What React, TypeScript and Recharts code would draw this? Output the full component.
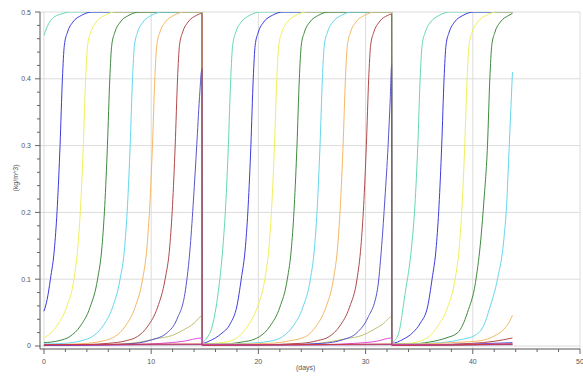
import React from "react";
import { LineChart, Line, XAxis, YAxis, CartesianGrid } from "recharts";

// day, concentration pairs (three batches, reset at ~14.74 and ~32.43)
const teal: [number, number][] = [
  [0, 0.465], [0.3, 0.478], [0.6, 0.487], [1, 0.493], [1.6, 0.497], [2.5, 0.5], [14.74, 0.5], [14.76, 0.006],
  [15.2, 0.012], [15.7, 0.03], [16.25, 0.08], [16.7, 0.15], [16.95, 0.21], [17.2, 0.3], [17.42, 0.4], [17.6, 0.45],
  [17.9, 0.47], [18.4, 0.485], [19.2, 0.495], [20.2, 0.5], [32.43, 0.5], [32.45, 0.006],
  [33, 0.015], [33.7, 0.08], [34.3, 0.15], [34.6, 0.21], [34.87, 0.3], [35.09, 0.4], [35.27, 0.45], [35.57, 0.47],
  [36.07, 0.485], [36.87, 0.495], [37.9, 0.5], [43.7, 0.5],
];
const blue: [number, number][] = [
  [0, 0.052], [0.3, 0.07], [0.6, 0.1], [1.0, 0.15], [1.25, 0.21], [1.5, 0.3], [1.72, 0.4], [1.9, 0.45], [2.2, 0.47],
  [2.7, 0.485], [3.5, 0.495], [4.5, 0.5], [14.74, 0.5], [14.76, 0.004],
  [15.5, 0.008], [16.5, 0.018], [17.4, 0.034], [18.0, 0.06], [18.4, 0.1], [18.8, 0.15], [19.05, 0.21], [19.3, 0.3],
  [19.52, 0.4], [19.7, 0.45], [20.0, 0.47], [20.5, 0.485], [21.3, 0.495], [22.3, 0.5], [32.43, 0.5], [32.45, 0.004],
  [33.5, 0.01], [34.4, 0.02], [35.1, 0.034], [35.8, 0.06], [36.2, 0.1], [36.6, 0.15], [36.85, 0.21], [37.1, 0.3],
  [37.32, 0.4], [37.5, 0.45], [37.8, 0.47], [38.3, 0.485], [39.1, 0.495], [40.1, 0.5], [43.7, 0.5],
];
const yellow: [number, number][] = [
  [0, 0.012], [1.2, 0.03], [2.1, 0.058], [2.8, 0.1], [3.17, 0.15], [3.42, 0.21], [3.67, 0.3], [3.89, 0.4],
  [4.07, 0.45], [4.37, 0.47], [4.87, 0.485], [5.67, 0.495], [6.67, 0.5], [14.74, 0.5], [14.76, 0.003],
  [16, 0.004], [17.5, 0.008], [18, 0.012], [19, 0.03], [19.9, 0.058], [20.6, 0.1], [21.0, 0.15], [21.25, 0.21],
  [21.5, 0.3], [21.72, 0.4], [21.9, 0.45], [22.2, 0.47], [22.7, 0.485], [23.5, 0.495], [24.5, 0.5], [32.43, 0.5], [32.45, 0.003],
  [34, 0.004], [35.5, 0.01], [36.75, 0.03], [37.65, 0.058], [38.35, 0.1], [38.75, 0.15], [39.0, 0.21], [39.25, 0.3],
  [39.47, 0.4], [39.65, 0.45], [39.95, 0.47], [40.45, 0.485], [41.25, 0.495], [42.25, 0.5], [43.7, 0.5],
];
const green: [number, number][] = [
  [0, 0.005], [1.4, 0.008], [2.4, 0.014], [3.4, 0.03], [4.3, 0.058], [5.0, 0.1], [5.42, 0.15], [5.67, 0.21],
  [5.92, 0.3], [6.14, 0.4], [6.32, 0.45], [6.62, 0.47], [7.12, 0.485], [7.92, 0.495], [8.92, 0.5], [14.74, 0.5], [14.76, 0.003],
  [16.5, 0.003], [18.5, 0.006], [19.6, 0.01], [20.1, 0.014], [21.1, 0.03], [22.0, 0.058], [22.7, 0.1], [23.1, 0.15],
  [23.35, 0.21], [23.6, 0.3], [23.82, 0.4], [24.0, 0.45], [24.3, 0.47], [24.8, 0.485], [25.6, 0.495], [26.6, 0.5],
  [32.43, 0.5], [32.45, 0.003],
  [34, 0.003], [36, 0.006], [37.5, 0.012], [38.6, 0.02], [39.5, 0.05], [40.3, 0.1], [40.75, 0.16], [41.05, 0.22],
  [41.37, 0.3], [41.59, 0.4], [41.77, 0.45], [42.07, 0.47], [42.57, 0.485], [43.37, 0.495], [43.7, 0.498],
];
const cyan: [number, number][] = [
  [0, 0.003], [2, 0.004], [3.5, 0.008], [4.5, 0.014], [5.5, 0.03], [6.4, 0.058], [7.1, 0.1], [7.54, 0.15],
  [7.79, 0.21], [8.04, 0.3], [8.26, 0.4], [8.44, 0.45], [8.74, 0.47], [9.24, 0.485], [10.04, 0.495], [11.04, 0.5],
  [14.74, 0.5], [14.76, 0.003],
  [17, 0.003], [19, 0.004], [21, 0.007], [22.25, 0.014], [23.25, 0.03], [24.15, 0.058], [24.85, 0.1], [25.25, 0.15],
  [25.5, 0.21], [25.75, 0.3], [25.97, 0.4], [26.15, 0.45], [26.45, 0.47], [26.95, 0.485], [27.75, 0.495], [28.75, 0.5],
  [32.43, 0.5], [32.45, 0.003],
  [34, 0.003], [37, 0.005], [39, 0.01], [40.1, 0.015], [41, 0.03], [41.6, 0.058], [42.3, 0.1], [42.9, 0.16],
  [43.15, 0.21], [43.4, 0.3], [43.7, 0.41],
];
const orange: [number, number][] = [
  [0, 0.002], [3, 0.003], [5, 0.006], [6.6, 0.014], [7.6, 0.03], [8.5, 0.058], [9.2, 0.1], [9.62, 0.15],
  [9.87, 0.21], [10.12, 0.3], [10.34, 0.4], [10.52, 0.45], [10.82, 0.47], [11.32, 0.485], [12.12, 0.495], [13.12, 0.5],
  [14.74, 0.5], [14.76, 0.003],
  [18, 0.003], [21, 0.004], [23, 0.008], [24.4, 0.014], [25.4, 0.03], [26.3, 0.058], [27.0, 0.1], [27.4, 0.15],
  [27.65, 0.21], [27.9, 0.3], [28.12, 0.4], [28.3, 0.45], [28.6, 0.47], [29.1, 0.485], [29.9, 0.495], [30.9, 0.5],
  [32.43, 0.5], [32.45, 0.003],
  [35, 0.003], [38, 0.005], [40.75, 0.008], [42, 0.015], [42.9, 0.025], [43.4, 0.036], [43.7, 0.046],
];
const brown: [number, number][] = [
  [0, 0.001], [4, 0.002], [6, 0.004], [7.7, 0.008], [8.7, 0.014], [9.7, 0.03], [10.6, 0.058], [11.3, 0.1],
  [11.74, 0.15], [11.99, 0.21], [12.24, 0.3], [12.46, 0.4], [12.64, 0.45], [12.94, 0.47], [13.44, 0.485], [14.24, 0.495],
  [14.74, 0.498], [14.76, 0.002],
  [20, 0.002], [24, 0.004], [25.5, 0.008], [26.6, 0.014], [27.6, 0.03], [28.5, 0.058], [29.2, 0.1], [29.57, 0.15],
  [29.82, 0.21], [30.07, 0.3], [30.29, 0.4], [30.47, 0.45], [30.77, 0.47], [31.27, 0.485], [32.07, 0.495],
  [32.43, 0.497], [32.45, 0.002],
  [36, 0.002], [40, 0.004], [42, 0.007], [43.7, 0.012],
];
const slate: [number, number][] = [
  [0, 0.001], [6, 0.002], [8.5, 0.004], [10, 0.009], [11.5, 0.02], [12.4, 0.04], [13.2, 0.084], [13.65, 0.15],
  [13.95, 0.22], [14.25, 0.3], [14.5, 0.37], [14.74, 0.415], [14.76, 0.002],
  [22, 0.002], [26, 0.004], [27.8, 0.009], [29.2, 0.02], [30.2, 0.042], [31.1, 0.084], [31.5, 0.15], [31.8, 0.22],
  [32.1, 0.3], [32.3, 0.37], [32.43, 0.42], [32.45, 0.002],
  [36, 0.002], [40, 0.003], [43.7, 0.005],
];
const olive: [number, number][] = [
  [0, 0.001], [6, 0.002], [9, 0.006], [10.5, 0.011], [12, 0.016], [13, 0.024], [14, 0.034], [14.74, 0.045], [14.76, 0.002],
  [24, 0.002], [26.5, 0.006], [28.2, 0.011], [29.7, 0.016], [30.7, 0.024], [31.7, 0.034], [32.43, 0.044], [32.45, 0.002],
  [36, 0.001], [43.7, 0.003],
];
const magenta: [number, number][] = [
  [0, 0.001], [8, 0.002], [11, 0.004], [13, 0.007], [14.74, 0.012], [14.76, 0.002],
  [26, 0.002], [29, 0.004], [31, 0.007], [32.43, 0.012], [32.45, 0.002],
  [43.7, 0.003],
];
const red: [number, number][] = [
  [0, 0.002], [14.74, 0.003], [14.76, 0.001], [32.43, 0.003], [32.45, 0.001], [43.7, 0.003],
];
const purple: [number, number][] = [
  [0, 0.001], [14.74, 0.002], [14.76, 0.001], [32.43, 0.002], [32.45, 0.001], [43.7, 0.002],
];

// drawn in this order, later ones on top
const seriesList = [
  { name: "teal", pts: teal, color: "#66d8b2" },
  { name: "blue", pts: blue, color: "#3c3cdc" },
  { name: "yellow", pts: yellow, color: "#f0f05a" },
  { name: "green", pts: green, color: "#3f8a3f" },
  { name: "cyan", pts: cyan, color: "#66d6ee" },
  { name: "orange", pts: orange, color: "#f5b865" },
  { name: "olive", pts: olive, color: "#c2bf72" },
  { name: "slate", pts: slate, color: "#5656cc" },
  { name: "brown", pts: brown, color: "#b04a4a" },
  { name: "magenta", pts: magenta, color: "#e04ce0" },
  { name: "purple", pts: purple, color: "#7a3aa8" },
  { name: "red", pts: red, color: "#d03a3a" },
];

const xTicks = [0, 2, 4, 6, 8, 10, 12, 14, 16, 18, 20, 22, 24, 26, 28, 30, 32, 34, 36, 38, 40, 42, 44, 46, 48, 50];
const xGrid = [0, 10, 20, 30, 40, 50];
const yTicks = [0, 0.02, 0.04, 0.06, 0.08, 0.1, 0.12, 0.14, 0.16, 0.18, 0.2, 0.22, 0.24, 0.26, 0.28, 0.3,
  0.32, 0.34, 0.36, 0.38, 0.4, 0.42, 0.44, 0.46, 0.48, 0.5];
const yGrid = [0, 0.1, 0.2, 0.3, 0.4, 0.5];

const font = "'Liberation Sans', Arial, sans-serif";

const XTick = (props: any) => {
  const { x, y, payload } = props;
  const v = payload.value;
  const major = v % 10 === 0;
  return (
    <g>
      <line x1={x} x2={x} y1={y} y2={y + (major ? 5 : 3)} stroke="#666" />
      {major && (
        <text x={x} y={y + 15} textAnchor="middle" fontSize={7} fill="#555" fontFamily={font}>
          {v}
        </text>
      )}
    </g>
  );
};

const YTick = (props: any) => {
  const { x, y, payload } = props;
  const v = payload.value;
  const major = Math.abs(v * 10 - Math.round(v * 10)) < 1e-6;
  return (
    <g>
      <line x1={x - (major ? 5 : 3)} x2={x} y1={y} y2={y} stroke="#666" />
      {major && (
        <text x={x - 9} y={y + 2.5} textAnchor="end" fontSize={7} fill="#555" fontFamily={font}>
          {v === 0 ? "0" : v.toFixed(1)}
        </text>
      )}
    </g>
  );
};

export default function App() {
  return (
    <div style={{ position: "absolute", left: 0, top: 0, width: 583, height: 376, background: "#fff" }}>
      <LineChart width={583} height={376} margin={{ top: 12, right: 3, bottom: 0, left: 0 }}>
        <CartesianGrid
          stroke="#dcdcdc"
          horizontalValues={yGrid}
          verticalValues={xGrid}
        />
        <XAxis
          type="number"
          dataKey="x"
          domain={[-0.37, 50]}
          allowDataOverflow
          ticks={xTicks}
          tick={<XTick />}
          tickLine={false}
          tickSize={0}
          tickMargin={0}
          height={27}
          stroke="#555"
          interval={0}
        />
        <YAxis
          type="number"
          dataKey="y"
          domain={[-0.0045, 0.5]}
          allowDataOverflow
          ticks={yTicks}
          tick={<YTick />}
          tickLine={false}
          tickSize={0}
          tickMargin={0}
          width={40}
          stroke="#555"
          interval={0}
        />
        {seriesList.map((s) => (
          <Line
            key={s.name}
            data={s.pts.map(([x, y]) => ({ x, y }))}
            dataKey="y"
            type="monotone"
            stroke={s.color}
            strokeWidth={1}
            dot={false}
            activeDot={false}
            isAnimationActive={false}
          />
        ))}
      </LineChart>
      <div
        style={{
          position: "absolute",
          left: 296,
          top: 364,
          fontSize: 7,
          color: "#555",
          fontFamily: font,
        }}
      >
        (days)
      </div>
      <div
        style={{
          position: "absolute",
          left: 15,
          top: 178,
          fontSize: 7,
          color: "#555",
          fontFamily: font,
          transform: "translate(-50%, -50%) rotate(-90deg)",
          whiteSpace: "nowrap",
        }}
      >
        (kg/m^3)
      </div>
    </div>
  );
}
